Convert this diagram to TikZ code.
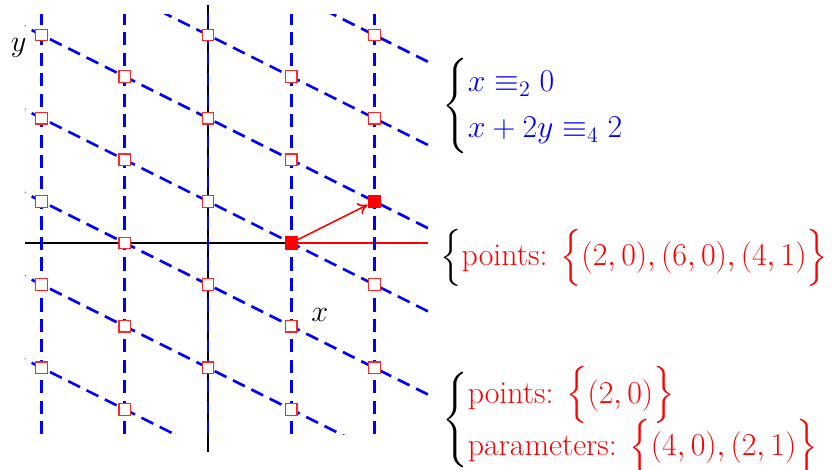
\documentclass[tikz,border=0pt]{standalone}
\usepackage{amsmath}
\usepackage{xcolor}
\usetikzlibrary{positioning, arrows.meta}

\begin{document}
\begin{tikzpicture}[
  every node/.style={font=\fontsize{20.74}{25}\selectfont},
  desc/.style={anchor=west, inner sep=0pt, scale=1.05},
  lattice/.style={blue, line width=1.8pt, dash pattern=on 9pt off 5pt},
  axis/.style={black, line width=1.2pt},
  opensq/.style={rectangle, draw=red!85, fill=white, line width=0.8pt,
    minimum size=0.28cm, inner sep=0pt},
  fillsq/.style={rectangle, fill=red, minimum size=0.32cm, inner sep=0pt},
  arrow/.style={-{To[length=2.2mm, width=3mm]}, red, line width=1.1pt}
]
\useasboundingbox (-5,-5.457) rectangle (15,5.841);

% Axes
\draw[axis] (-4.4,0) -- (2,0);
\draw[axis] (0,-5.02) -- (0,5.72);
\draw[red, line width=1.6pt] (2,0) -- (5.3,0);

% Lattice lines
\begin{scope}
  \clip (-4.4,-4.6) rectangle (5.3,5.5);
  \foreach \x in {-4,-2,0,2,4}
    \draw[lattice] (\x,-4.6) -- (\x,5.5);
  \foreach \c in {-10,-6,-2,2,6,10,14}
    \draw[lattice] (-6,{(\c+6)/2}) -- (8,{(\c-8)/2});
\end{scope}

% Lattice points
\foreach \x in {-4,0,4}
  \foreach \y in {-3,-1,1,3,5}
    \node[opensq] (q\x\y) at (\x,\y) {};
\foreach \x in {-2,2}
  \foreach \y in {-4,-2,0,2,4}
    \node[opensq] (q\x\y) at (\x,\y) {};

% Generators
\node[fillsq] (p20) at (2,0) {};
\node[fillsq] (p41) at (4,1) {};
\draw[arrow] (p20) -- (p41);

% Axis labels
\node (ylabel) at (-4.55,4.68) {$y$};
\node (xlabel) at (2.69,-1.72) {$x$};

% Descriptions
\node[desc] (eqs) at (5.62,3.3)
  {$\begin{cases} \color{blue} x \equiv_2 0\\ \color{blue} x+2y \equiv_4 2 \end{cases}$};
\node[desc] (pts) at (5.58,-0.36)
  {$\Bigl\{\color{red}\text{points: }\Bigl\{(2,0),(6,0),(4,1)\Bigr\}$};
\node[desc] (params) at (5.62,-4.26)
  {$\begin{cases} \smash{\color{red}\text{points: }\Bigl\{(2,0)\Bigr\}}\\[4pt]
    \smash{\color{red}\text{parameters: }\Bigl\{(4,0),(2,1)\Bigr\}} \end{cases}$};

\end{tikzpicture}
\end{document}
